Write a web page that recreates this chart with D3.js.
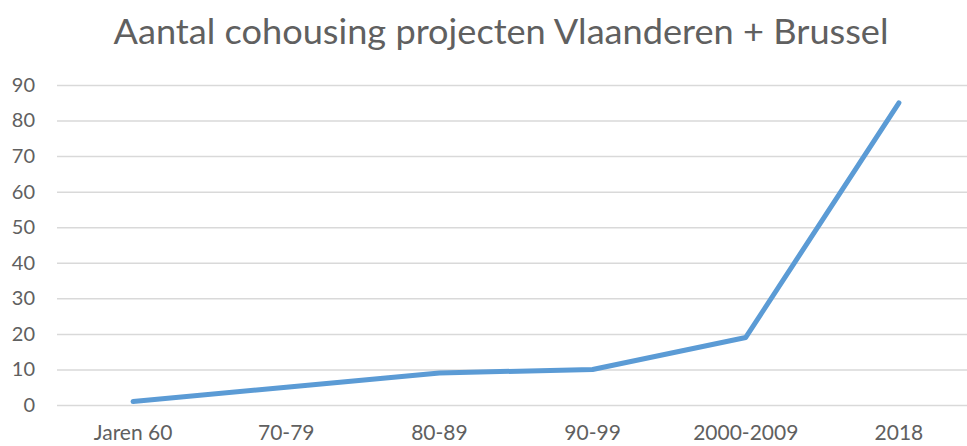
<!DOCTYPE html>
<html>
<head>
<meta charset="utf-8">
<script src="https://cdn.jsdelivr.net/npm/d3@7"></script>
<style>
  body { margin: 0; background: #fff; }
  svg { display: block; }
</style>
</head>
<body>
<div id="chart"></div>
<script>
// Data
const categories = ["Jaren 60", "70-79", "80-89", "90-99", "2000-2009", "2018"];
const values = [1, 5, 9, 10, 19, 85];
const yTicks = [0, 10, 20, 30, 40, 50, 60, 70, 80, 90];
const chartTitle = "Aantal cohousing projecten Vlaanderen + Brussel";

const width = 967, height = 446;
const textColor = "#606060";
const gridColor = "#d9d9d9";
const lineColor = "#5b9bd5";
const fontFamily = "Lato, 'Open Sans', sans-serif";

const svg = d3.select("#chart").append("svg")
    .attr("width", width)
    .attr("height", height);

// scales
const x = d3.scaleBand()
    .domain(categories)
    .range([56.5, 975.5]);

const y = d3.scaleLinear()
    .domain([0, 90])
    .range([405, 85]);

// title
svg.append("text")
    .attr("x", 501)
    .attr("y", 44)
    .attr("text-anchor", "middle")
    .attr("fill", textColor)
    .style("font-family", fontFamily)
    .style("font-size", "34px")
    .attr("textLength", 775)
    .attr("lengthAdjust", "spacingAndGlyphs")
    .text(chartTitle);

// gridlines + y labels
const yAxis = svg.append("g")
    .attr("transform", "translate(57,0)")
    .call(d3.axisLeft(y)
        .tickValues(yTicks)
        .tickSize(-(width - 57))
        .tickPadding(22));
yAxis.select(".domain").remove();
yAxis.selectAll(".tick line")
    .attr("stroke", gridColor)
    .attr("stroke-width", 1.5);
yAxis.selectAll(".tick text")
    .attr("fill", textColor)
    .style("font-family", fontFamily)
    .style("font-size", "20px");

// x labels
const xAxis = svg.append("g")
    .attr("transform", "translate(0,405)")
    .call(d3.axisBottom(x).tickSize(0).tickPadding(20));
xAxis.select(".domain").remove();
xAxis.selectAll(".tick text")
    .attr("fill", textColor)
    .style("font-family", fontFamily)
    .style("font-size", "21px");

// line
const line = d3.line()
    .x(function (d, i) { return x(categories[i]) + x.bandwidth() / 2; })
    .y(function (d) { return y(d); });

svg.append("path")
    .datum(values)
    .attr("d", line)
    .attr("fill", "none")
    .attr("stroke", lineColor)
    .attr("stroke-width", 5)
    .attr("stroke-linecap", "round")
    .attr("stroke-linejoin", "round");
</script>
</body>
</html>
